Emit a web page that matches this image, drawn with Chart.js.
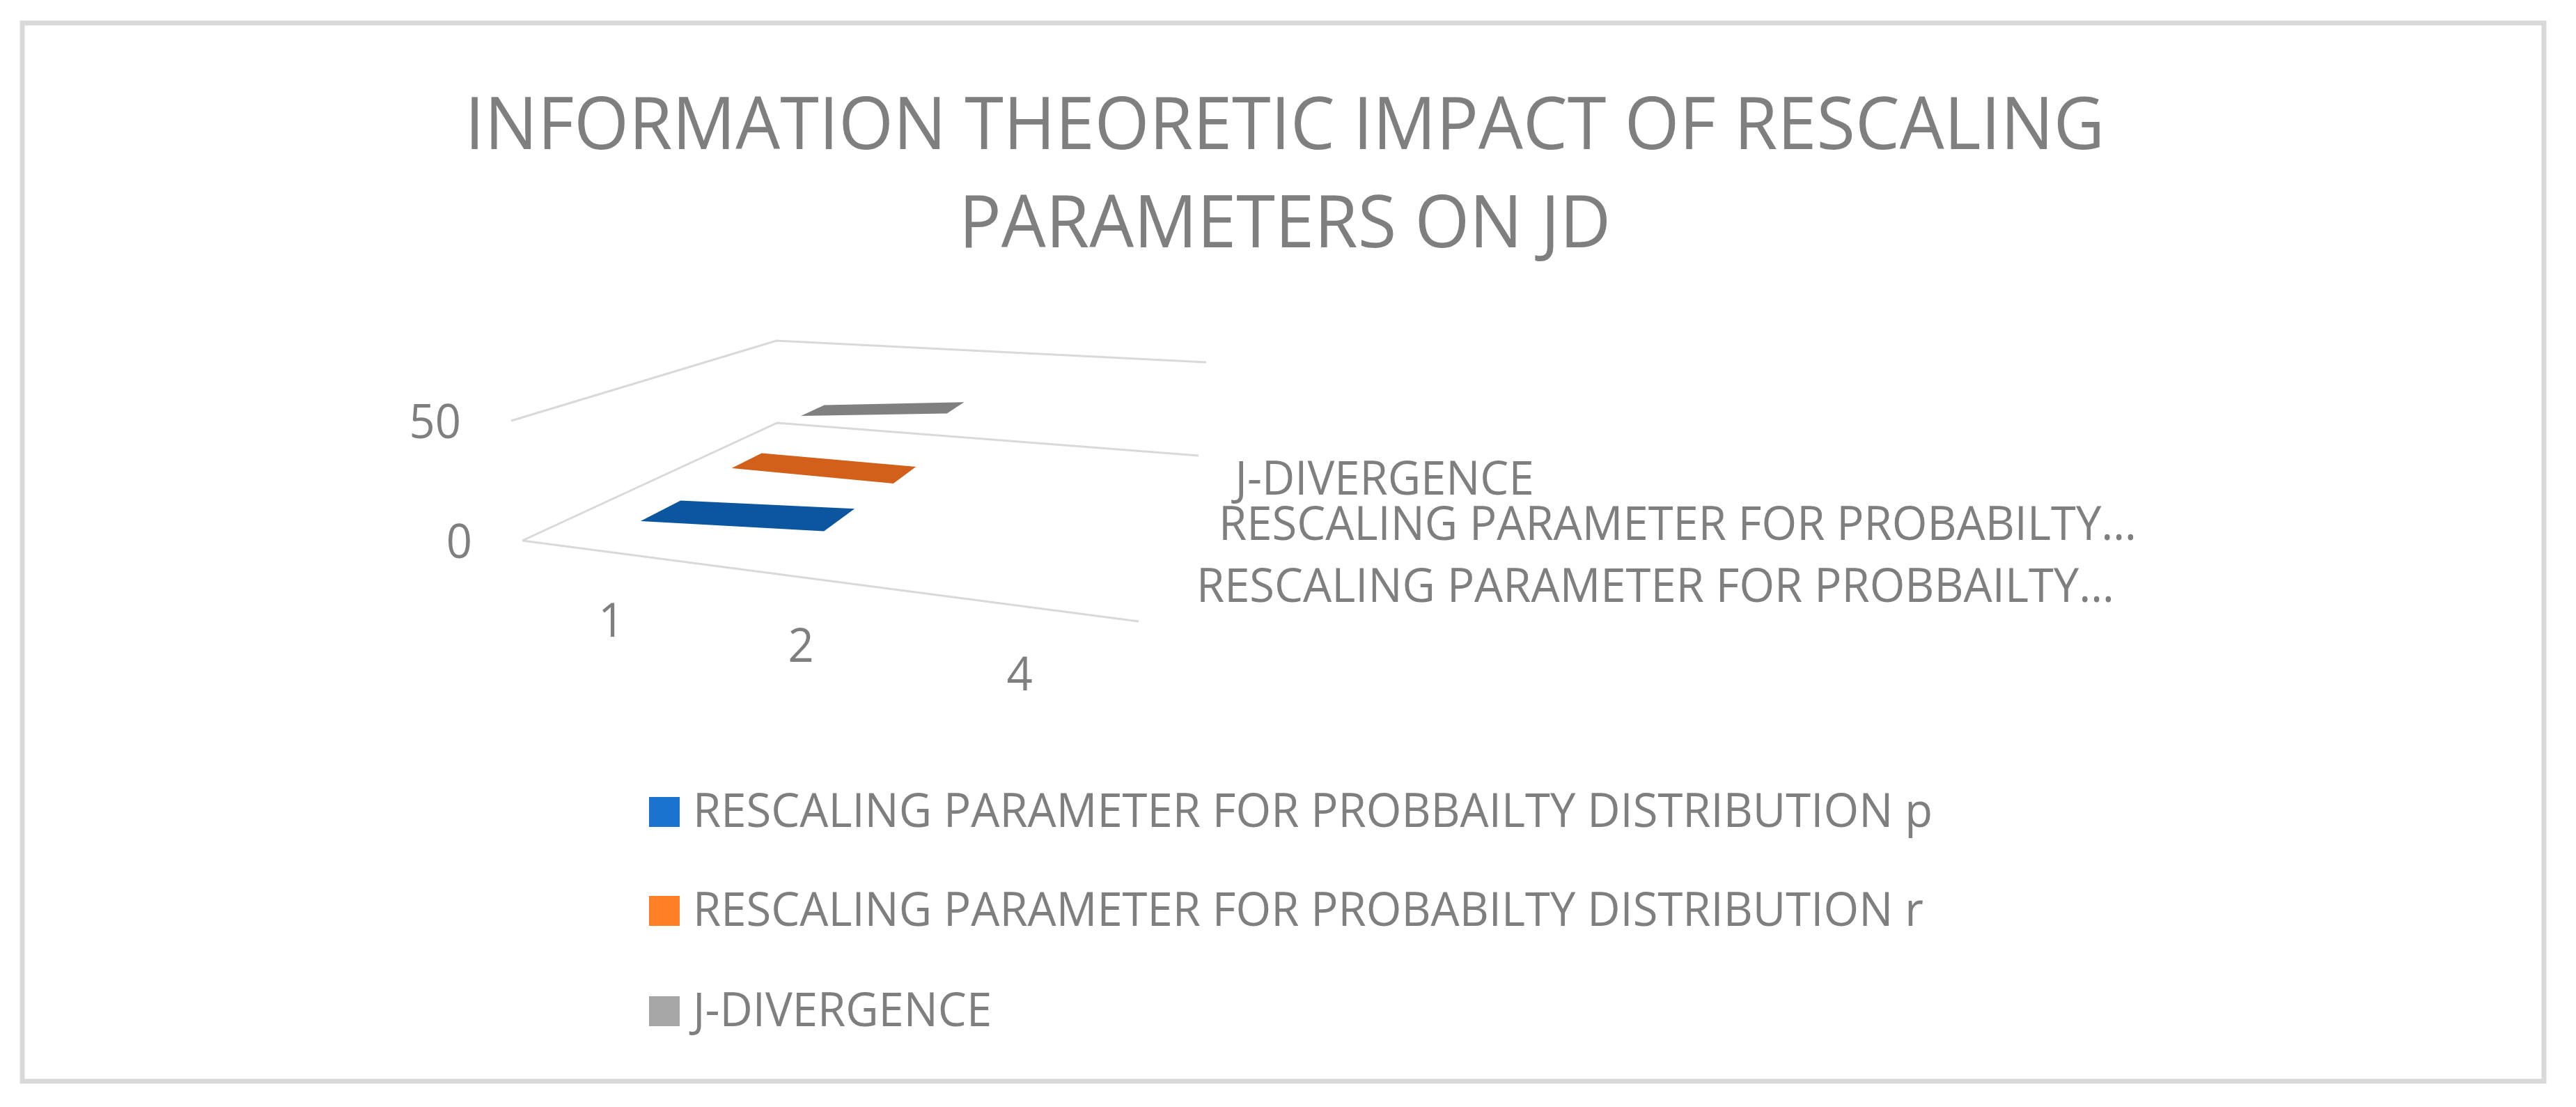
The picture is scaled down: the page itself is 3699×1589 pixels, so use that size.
<!DOCTYPE html>
<html>
<head>
<meta charset="utf-8">
<script src="https://cdn.jsdelivr.net/npm/chart.js@4.4.0/dist/chart.umd.min.js"></script>
<style>
  html, body { margin: 0; padding: 0; background: #fff; }
  #caja { position: relative; width: 3699px; height: 1589px; }
</style>
</head>
<body>
<div id="caja"><canvas id="grafico"></canvas></div>
<script>
// datos
const categorias = ["1", "2", "4"];
const serieP = [5.5, 10, null];
const serieR = [8.4, 8.4, null];
const serieJD = [18, 25, null];
const nombresSeries = [
  "RESCALING PARAMETER FOR PROBBAILTY DISTRIBUTION p",
  "RESCALING PARAMETER FOR PROBABILTY DISTRIBUTION r",
  "J-DIVERGENCE",
];
const nombresProfundidad = [
  "RESCALING PARAMETER FOR PROBBAILTY…",
  "RESCALING PARAMETER FOR PROBABILTY…",
  "J-DIVERGENCE",
];
const marcasY = [0, 50];
const titulo = ["INFORMATION THEORETIC IMPACT OF RESCALING", "PARAMETERS ON JD"];

const coloresLeyenda = ["#1a73cc", "#ff7f27", "#a6a6a6"];
const coloresCinta = ["#0c56a0", "#d2601a", "#808080"];
const colorTexto = "#7f7f7f";
const colorRejilla = "#d9d9d9";
const fuente = '"Open Sans"';

// esquinas de la caja 3D en pantalla: (0,0) (1,0) (1,1) (0,1)
const piso = [[750, 776], [1635, 892], [1721, 654], [1116, 607]];
const techo = [[734, 604], [1650, 677], [1732, 520], [1115, 489]];

function homografia(q) {
  const [x0, y0] = q[0], [x1, y1] = q[1], [x2, y2] = q[2], [x3, y3] = q[3];
  const dx1 = x1 - x2, dx2 = x3 - x2, dx3 = x0 - x1 + x2 - x3;
  const dy1 = y1 - y2, dy2 = y3 - y2, dy3 = y0 - y1 + y2 - y3;
  const den = dx1 * dy2 - dx2 * dy1;
  const g = (dx3 * dy2 - dx2 * dy3) / den;
  const h = (dx1 * dy3 - dx3 * dy1) / den;
  const a = x1 - x0 + g * x1, b = x3 - x0 + h * x3;
  const d = y1 - y0 + g * y1, e = y3 - y0 + h * y3;
  return function (u, v) {
    const w = g * u + h * v + 1;
    return [(a * u + b * v + x0) / w, (d * u + e * v + y0) / w];
  };
}
const hPiso = homografia(piso);
const hTecho = homografia(techo);

// u: posicion en categorias, v: profundidad, t: altura 0..1
function proyectar(u, v, t) {
  const p = hPiso(u, v), q = hTecho(u, v);
  return [p[0] + (q[0] - p[0]) * t, p[1] + (q[1] - p[1]) * t];
}

let sx = 1;
function texto(ctx, str, x, y, size, align) {
  ctx.save();
  ctx.font = size + "px " + fuente;
  const w = ctx.measureText(str).width * sx;
  let x0 = x;
  if (align === "center") x0 = x - w / 2;
  if (align === "right") x0 = x - w;
  ctx.translate(x0, y);
  ctx.scale(sx, 1);
  ctx.fillStyle = colorTexto;
  ctx.textAlign = "left";
  ctx.textBaseline = "alphabetic";
  ctx.fillText(str, 0, 0);
  ctx.restore();
}

const dibujo3D = {
  id: "dibujo3D",
  afterDraw(chart) {
    const ctx = chart.ctx;
    const xs = chart.scales.x, ys = chart.scales.y;
    const uDe = (i) => (xs.getPixelForValue(i) - xs.left) / xs.width;
    const tDe = (val) => (ys.bottom - ys.getPixelForValue(val)) / ys.height;

    // ancho de la letra como en el original
    ctx.save();
    ctx.font = "67px " + fuente;
    sx = 1780 / ctx.measureText(nombresSeries[0]).width;
    ctx.restore();

    // marco exterior
    ctx.save();
    ctx.strokeStyle = colorRejilla;
    ctx.lineWidth = 7;
    ctx.strokeRect(32, 33, 3621, 1519);
    ctx.restore();

    // titulo
    texto(ctx, titulo[0], 1845, 214, 104, "center");
    texto(ctx, titulo[1], 1845, 355, 104, "center");

    // rejilla: paredes y piso
    ctx.save();
    ctx.strokeStyle = colorRejilla;
    ctx.lineWidth = 3;
    marcasY.forEach((m) => {
      const t = tDe(m);
      const a = proyectar(0, 0, t), b = proyectar(0, 1, t), c = proyectar(1, 1, t);
      ctx.beginPath();
      ctx.moveTo(a[0], a[1]);
      ctx.lineTo(b[0], b[1]);
      ctx.lineTo(c[0], c[1]);
      ctx.stroke();
    });
    const f0 = proyectar(0, 0, 0), f1 = proyectar(1, 0, 0);
    ctx.beginPath();
    ctx.moveTo(f0[0], f0[1]);
    ctx.lineTo(f1[0], f1[1]);
    ctx.stroke();
    ctx.restore();

    // etiquetas del eje de valores
    marcasY.forEach((m) => {
      const p = proyectar(0, 0, tDe(m));
      texto(ctx, String(m), p[0] - 72, p[1] + 25, 67, "right");
    });

    // etiquetas de categorias
    categorias.forEach((c, i) => {
      const p = proyectar(uDe(i), 0, 0);
      texto(ctx, c, p[0] + 5, p[1] + 122, 67, "center");
    });

    // cintas de cada serie, de atras hacia adelante
    const n = chart.data.datasets.length;
    for (let k = n - 1; k >= 0; k--) {
      const ds = chart.data.datasets[k];
      const vc = (k + 0.5) / n, med = 0.067;
      ctx.fillStyle = coloresCinta[k];
      for (let i = 0; i < ds.data.length - 1; i++) {
        const a = ds.data[i], b = ds.data[i + 1];
        if (a == null || b == null) continue;
        const u1 = uDe(i), u2 = uDe(i + 1);
        const pts = [
          proyectar(u1, vc - med, tDe(a)),
          proyectar(u1, vc + med, tDe(a)),
          proyectar(u2, vc + med, tDe(b)),
          proyectar(u2, vc - med, tDe(b)),
        ];
        ctx.beginPath();
        ctx.moveTo(pts[0][0], pts[0][1]);
        pts.slice(1).forEach((p) => ctx.lineTo(p[0], p[1]));
        ctx.closePath();
        ctx.fill();
      }
      // nombre de la serie en el eje de profundidad
      const p = proyectar(1, vc, 0);
      texto(ctx, nombresProfundidad[k], p[0] + 62, p[1] + 30, 67, "left");
    }

    // leyenda
    const filas = [1187, 1329, 1473];
    chart.data.datasets.forEach((ds, k) => {
      ctx.fillStyle = coloresLeyenda[k];
      ctx.fillRect(932, filas[k] - 43, 44, 43);
      texto(ctx, ds.label, 995, filas[k], 67, "left");
    });
  },
};

new Chart(document.getElementById("grafico"), {
  type: "line",
  data: {
    labels: categorias,
    datasets: [
      { label: nombresSeries[0], data: serieP, borderColor: coloresCinta[0] },
      { label: nombresSeries[1], data: serieR, borderColor: coloresCinta[1] },
      { label: nombresSeries[2], data: serieJD, borderColor: coloresCinta[2] },
    ],
  },
  options: {
    responsive: true,
    maintainAspectRatio: false,
    animation: false,
    events: [],
    layout: { padding: 0 },
    datasets: { line: { showLine: false, pointRadius: 0 } },
    scales: {
      x: { display: false, offset: true },
      y: { display: false, min: 0, max: 50 },
    },
    plugins: {
      legend: { display: false },
      title: { display: false },
      tooltip: { enabled: false },
    },
  },
  plugins: [dibujo3D],
});
</script>
</body>
</html>
